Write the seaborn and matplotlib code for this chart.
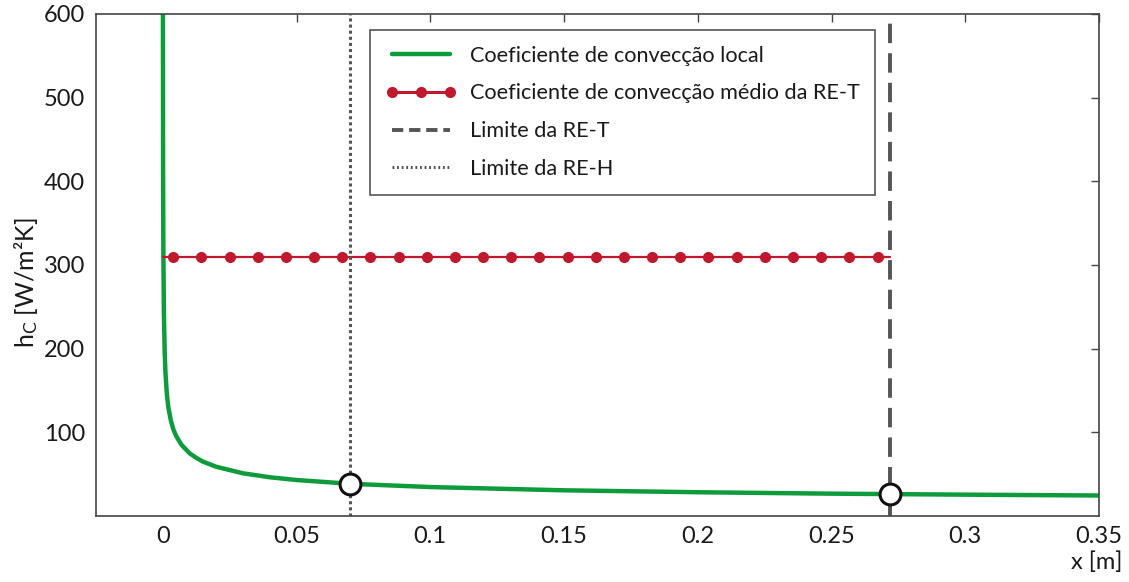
import numpy as np
import pandas as pd
import seaborn as sns
import matplotlib.pyplot as plt
from matplotlib.lines import Line2D

# local convection coefficient
x_local = [0.00002, 0.00004, 0.0001, 0.0002, 0.0004, 0.0007, 0.001, 0.0015, 0.002, 0.003,
           0.004, 0.005, 0.007, 0.01, 0.0125, 0.015, 0.02, 0.03, 0.04, 0.05, 0.07,
           0.1, 0.15, 0.2, 0.25, 0.3, 0.35]
h_local = [760, 593, 414, 316, 242, 195, 170, 146, 131, 114,
           103, 95.5, 85, 75, 69.5, 65, 58.8, 51, 46.3, 43, 38.5,
           34.6, 30.7, 28.4, 26.7, 25.5, 24.5]

# mean coefficient of the RE-T region
h_mean = 310
x_mean_line = [0, 0.272]
x_mean_markers = [0.0039, 0.0144, 0.0250, 0.0355, 0.0460, 0.0566, 0.0671, 0.0776,
                  0.0882, 0.0987, 0.1092, 0.1198, 0.1303, 0.1408, 0.1514, 0.1619,
                  0.1724, 0.1830, 0.1935, 0.2040, 0.2146, 0.2251, 0.2356, 0.2462,
                  0.2567, 0.2672]

# region limits and the points where they cut the curve
x_ret = 0.272
x_reh = 0.0698
x_points = [0.0698, 0.272]
h_points = [38.5, 26.1]

xticks = [0, 0.05, 0.1, 0.15, 0.2, 0.25, 0.3, 0.35]
xtick_labels = ['0', '0.05', '0.1', '0.15', '0.2', '0.25', '0.3', '0.35']
yticks = [100, 200, 300, 400, 500, 600]

green = '#0d9b3c'
red = '#c0182c'
grey = '#555555'

sns.set_theme(style='white')
plt.rcParams['font.family'] = ['Lato', 'DejaVu Sans']
plt.rcParams['mathtext.default'] = 'regular'

fig = plt.figure(figsize=(11.29, 5.82), dpi=100)
ax = fig.add_axes([0.085, 0.1134, 0.8884, 0.8626])

local_df = pd.DataFrame({'x': x_local, 'h': h_local})
sns.lineplot(data=local_df, x='x', y='h', ax=ax, color=green, linewidth=3.2, sort=False)

sns.lineplot(x=x_mean_line, y=[h_mean] * len(x_mean_line), ax=ax, color=red, linewidth=1.6)
ax.plot(x_mean_markers, [h_mean] * len(x_mean_markers), linestyle='none', marker='o',
        markersize=7, color=red)

ax.axvline(x_ret, color=grey, linewidth=2.8, linestyle=(0, (5, 2.6)))
ax.axvline(x_reh, color=grey, linewidth=2.2, linestyle=(0, (1, 1)))

ax.plot(x_points, h_points, linestyle='none', marker='o', markersize=15,
        markerfacecolor='white', markeredgecolor='#111111', markeredgewidth=2.2, zorder=5)

ax.set_xlim(-0.025, 0.35)
ax.set_ylim(0, 600)
ax.set_xticks(xticks)
ax.set_xticklabels(xtick_labels)
ax.set_yticks(yticks)
ax.tick_params(direction='in', length=6, width=1, color='#444444', top=True, right=True,
               labelsize=17, labelcolor='#1a1a1a')
ax.tick_params(axis='x', pad=7)
ax.tick_params(axis='y', pad=8)
for s in ax.spines.values():
    s.set_color('#444444')
    s.set_linewidth(1.2)

ax.set_xlabel('x [m]', fontsize=17, color='#1a1a1a', ha='right')
ax.xaxis.set_label_coords(1.023, -0.07)
ax.set_ylabel('h$_{C}$ [W/m²K]', fontsize=18, color='#1a1a1a')
ax.yaxis.set_label_coords(-0.056, 0.464)

handles = [
    Line2D([], [], color=green, linewidth=3.2),
    Line2D([], [], color=red, linewidth=2.2, marker='o', markersize=7),
    Line2D([], [], color=grey, linewidth=2.8, linestyle=(0, (2.9, 1.5))),
    Line2D([], [], color=grey, linewidth=2.2, linestyle=(0, (0.6, 0.9))),
]
labels = ['Coeficiente de convecção local', 'Coeficiente de convecção médio da RE-T',
          'Limite da RE-T', 'Limite da RE-H']
leg = ax.legend(handles, labels, loc='upper left', bbox_to_anchor=(0.273, 0.968),
                borderaxespad=0, fontsize=15.6, numpoints=3, handlelength=3.3,
                handletextpad=0.6, labelspacing=0.82, borderpad=0.72, fancybox=False,
                framealpha=1, edgecolor='#555555')
leg.get_frame().set_linewidth(1.2)
for t in leg.get_texts():
    t.set_color('#1a1a1a')

plt.savefig('out.png', dpi=100)
